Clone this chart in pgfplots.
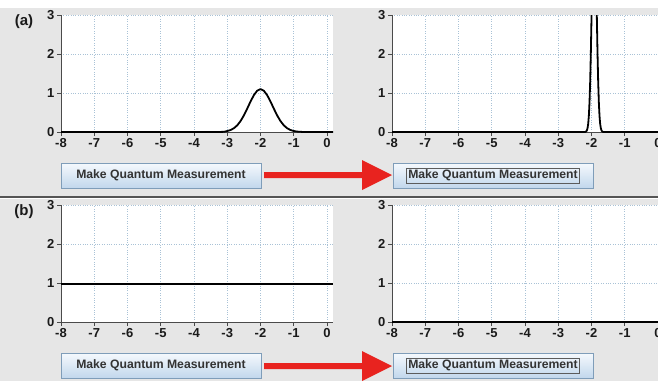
\documentclass[border=0pt]{standalone}
\usepackage{fontspec}
\setmainfont{Liberation Sans}
\usepackage{pgfplots}
\pgfplotsset{compat=1.18}
\definecolor{bg}{HTML}{E6E6E6}
\definecolor{axisgray}{HTML}{4A4A4A}
\definecolor{gridc}{HTML}{A9C2D6}
\definecolor{labc}{HTML}{1A1A1A}
\definecolor{btntop}{HTML}{F5F9FD}
\definecolor{btnbot}{HTML}{C2D7EC}
\definecolor{btnborder}{HTML}{7F9DB9}
\definecolor{btntext}{HTML}{333333}
\definecolor{arrowred}{HTML}{E8231F}
\definecolor{sep}{HTML}{555555}

\pgfplotsset{
  panel/.style={
    scale only axis, width=272pt, height=117pt,
    xmin=-8, xmax=0.18, ymin=0, ymax=3,
    axis lines*=left,
    axis line style={draw=axisgray, line width=0.9pt},
    xtick={-8,-7,-6,-5,-4,-3,-2,-1,0},
    xticklabels={-8,-7,-6,-5,-4,-3,-2,-1,0},
    ytick={0,1,2,3}, yticklabels={0,1,2,3},
    tick align=outside, major tick length=4pt,
    tick style={draw=axisgray, line width=0.8pt},
    grid=major,
    grid style={dotted, draw=gridc, line width=0.8pt},
    axis background/.style={fill=white},
    ticklabel style={font=\fontsize{13}{14}\selectfont\bfseries, text=labc},
    xticklabel style={yshift=1pt},
    yticklabel style={xshift=1pt},
    /pgf/number format/assume math mode=true,
    anchor=south west,
  },
  curve/.style={black, line width=1.8pt, line join=round},
}

\newcommand{\button}[3]{% x, y(top), focus
  \shade[top color=btntop, bottom color=btnbot] (#1pt,-#2pt) rectangle ++(200pt,-25pt);
  \draw[btnborder, line width=0.9pt] (#1pt,-#2pt) rectangle ++(200pt,-25pt);
  \node[text=btntext, font=\fontsize{12.2}{13}\selectfont\bfseries, inner sep=1.2pt] (btxt) at (#1pt+100pt,-#2pt-12.5pt) {Make Quantum Measurement};
  \ifnum#3=1 \draw[btntext!80, line width=0.6pt] ([xshift=-0.5pt,yshift=0.5pt]btxt.north west) rectangle ([xshift=0.5pt,yshift=-0.5pt]btxt.south east);\fi
}
\newcommand{\redarrow}[1]{% center y
  \fill[arrowred] (264pt,-#1pt+3pt) -- (362pt,-#1pt+3pt) -- (362pt,-#1pt+15pt) -- (392pt,-#1pt) -- (362pt,-#1pt-15pt) -- (362pt,-#1pt-3pt) -- (264pt,-#1pt-3pt) -- cycle;
}

\begin{document}
\begin{tikzpicture}
\useasboundingbox (0,0) rectangle (658pt,-381pt);
\fill[bg] (0,0) rectangle (658pt,-381pt);
\fill[white] (0,0) rectangle (658pt,-8pt);
\draw[sep, line width=1.6pt] (0,-197pt) -- (658pt,-197pt);
\draw[white, line width=0.8pt] (0,-198.8pt) -- (658pt,-198.8pt);

\node[font=\fontsize{15}{16}\selectfont\bfseries, text=labc] at (24pt,-22pt) {(a)};
\node[font=\fontsize{15}{16}\selectfont\bfseries, text=labc] at (24pt,-212pt) {(b)};

% (a) left
\begin{axis}[panel, at={(61pt,-132pt)}]
\addplot[curve] coordinates {
(-8,0) (-3.3,0) (-3.2,0.002) (-3.1,0.005) (-3.0,0.025) (-2.9,0.051) (-2.8,0.097)
(-2.7,0.171) (-2.6,0.281) (-2.5,0.426) (-2.4,0.600) (-2.3,0.782) (-2.2,0.945)
(-2.1,1.059) (-2.0,1.10) (-1.9,1.059) (-1.8,0.945) (-1.7,0.782) (-1.6,0.600)
(-1.5,0.426) (-1.4,0.281) (-1.3,0.171) (-1.2,0.097) (-1.1,0.051) (-1.0,0.025)
(-0.9,0.011) (-0.8,0.005) (-0.7,0) (0.18,0)
};
\end{axis}

% (a) right
\begin{axis}[panel, at={(392pt,-132pt)}]
\addplot[curve] coordinates {
(-8,0) (-2.20,0) (-2.18,0.005) (-2.16,0.016) (-2.14,0.041) (-2.12,0.096)
(-2.10,0.208) (-2.08,0.416) (-2.06,0.767) (-2.04,1.30) (-2.02,2.04)
(-2.00,2.95) (-1.98,3.93) (-1.96,4.82) (-1.94,5.44) (-1.92,5.67)
(-1.90,5.44) (-1.88,4.82) (-1.86,3.93) (-1.84,2.95) (-1.82,2.04)
(-1.80,1.30) (-1.78,0.767) (-1.76,0.416) (-1.74,0.208) (-1.72,0.096)
(-1.70,0.041) (-1.68,0.016) (-1.66,0.005) (-1.64,0) (0.18,0)
};
\end{axis}

% (b) left
\begin{axis}[panel, at={(61pt,-322pt)}]
\addplot[curve] coordinates {(-8,0.98) (0.18,0.98)};
\end{axis}

% (b) right
\begin{axis}[panel, at={(392pt,-322pt)}]
\addplot[curve] coordinates {(-8,0) (0.18,0)};
\end{axis}

\button{61}{163}{0}
\button{393}{163}{1}
\button{61}{353}{0}
\button{393}{353}{1}
\redarrow{175}
\redarrow{366}
\end{tikzpicture}
\end{document}
